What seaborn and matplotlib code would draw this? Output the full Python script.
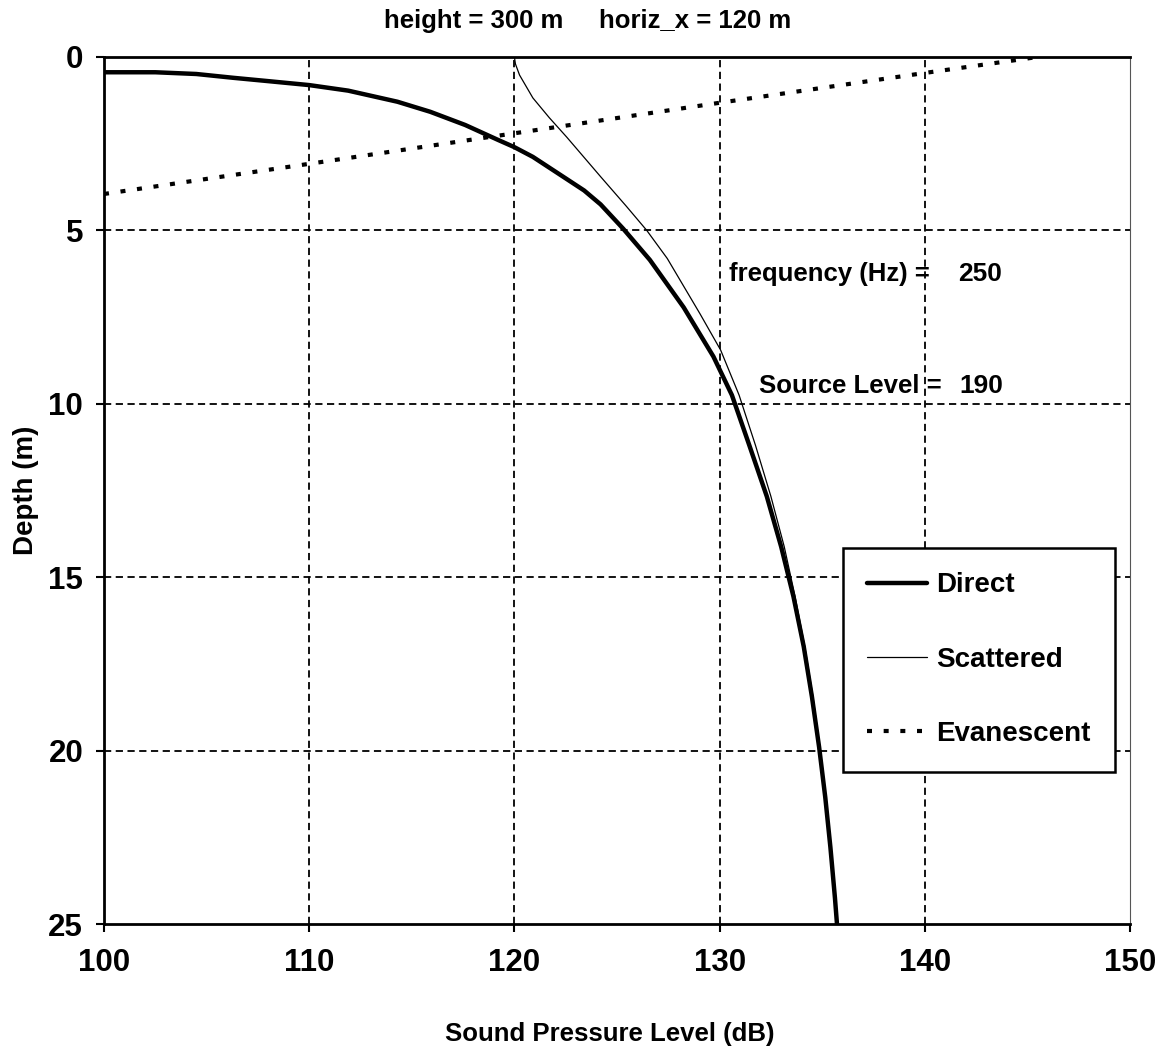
import numpy as np
import pandas as pd
import matplotlib
matplotlib.use("Agg")
import matplotlib.pyplot as plt
import seaborn as sns

# --- data ---
direct_spl = [100, 102.5, 104.5, 106.3, 107.9, 110, 111.9, 114.3, 115.9, 117.6,
              119.2, 120, 120.9, 122.5, 123.4, 124.2, 125.3, 126.6, 128.25, 129.7,
              130.6, 131.45, 132.3, 133.0, 133.6, 134.1, 134.5, 134.85, 135.15,
              135.4, 135.62, 135.72]
direct_depth = [0.44, 0.44, 0.49, 0.6, 0.69, 0.81, 0.97, 1.29, 1.58, 1.96,
                2.39, 2.6, 2.88, 3.5, 3.85, 4.25, 4.95, 5.85, 7.22, 8.64,
                9.75, 11.2, 12.67, 14.12, 15.56, 17.0, 18.45, 19.9, 21.35,
                22.79, 24.24, 25.0]

scattered_spl = [120, 120.05, 120.25, 120.9, 121.7, 122.55, 124.2, 125.45, 126.45,
                 127.45, 129.05, 130.05, 130.95, 131.75, 132.5, 133.15, 133.68,
                 134.15, 134.55, 134.88, 135.17, 135.42, 135.63, 135.73]
scattered_depth = [0.0, 0.2, 0.52, 1.18, 1.75, 2.31, 3.45, 4.3, 5.0,
                   5.81, 7.41, 8.45, 9.75, 11.2, 12.67, 14.12, 15.56,
                   17.0, 18.45, 19.9, 21.35, 22.79, 24.24, 25.0]

evanescent_spl = [100, 110, 120, 130, 140, 145.5]
evanescent_depth = [3.95, 3.08, 2.2, 1.32, 0.46, 0.0]

x_ticks = [100, 110, 120, 130, 140, 150]
y_ticks = [0, 5, 10, 15, 20, 25]

height_m = 300
horiz_x_m = 120
frequency_hz = 250
source_level = 190

sns.set_style("white")
fonts = ["Liberation Sans", "DejaVu Sans"]
plt.rcParams['font.family'] = fonts
plt.rcParams['font.weight'] = 'bold'
plt.rcParams['text.color'] = 'black'
plt.rcParams['axes.labelcolor'] = 'black'
plt.rcParams['xtick.color'] = 'black'
plt.rcParams['ytick.color'] = 'black'

fig = plt.figure(figsize=(11.59, 10.64), dpi=100)
ax = fig.add_axes([104 / 1159, 1 - 924 / 1064, 1026 / 1159, 867 / 1064])

direct = pd.DataFrame({'SPL': direct_spl, 'Depth': direct_depth})
scattered = pd.DataFrame({'SPL': scattered_spl, 'Depth': scattered_depth})
evanescent = pd.DataFrame({'SPL': evanescent_spl, 'Depth': evanescent_depth})

sns.lineplot(data=direct, x='SPL', y='Depth', sort=False, color='black',
             linewidth=3.2, label='Direct', ax=ax)
sns.lineplot(data=scattered, x='SPL', y='Depth', sort=False, color='black',
             linewidth=0.9, label='Scattered', ax=ax)
sns.lineplot(data=evanescent, x='SPL', y='Depth', sort=False, color='black',
             linewidth=3.0, label='Evanescent', ax=ax)
ax.lines[-1].set_dashes((1.2, 2.8))
ax.lines[-1].set_dash_capstyle('butt')
for ln in ax.lines:
    ln.set_solid_joinstyle('round')

ax.set_xlim(100, 150)
ax.set_ylim(25, 0)
ax.set_xticks(x_ticks)
ax.set_yticks(y_ticks)

# dashed grid
for v in x_ticks[1:-1]:
    ax.axvline(v, color='black', lw=1.3, dashes=(4, 2.5), zorder=0)
for v in y_ticks[1:-1]:
    ax.axhline(v, color='black', lw=1.3, dashes=(4, 2.5), zorder=0)

for side in ['left', 'top', 'bottom']:
    ax.spines[side].set_color('black')
    ax.spines[side].set_linewidth(2.0)
ax.spines['right'].set_color('#555555')
ax.spines['right'].set_linewidth(0.8)

ax.tick_params(axis='both', direction='out', length=6, width=1.5, color='black',
               labelsize=22.5)
ax.tick_params(axis='x', pad=11)
ax.tick_params(axis='y', pad=9)
ax.tick_params(left=True, bottom=True)

ax.set_xlabel('Sound Pressure Level (dB)', fontsize=18.5, fontweight='bold', labelpad=32)
ax.xaxis.label.set_x(0.493)
ax.set_ylabel('Depth (m)', fontsize=20, fontweight='bold', labelpad=7)
ax.set_title(f'height = {height_m} m     horiz_x = {horiz_x_m} m',
             fontsize=18.5, fontweight='bold', pad=21, x=0.471)

ax.text(130.45, 6.46, 'frequency (Hz) =', fontsize=18.5, fontweight='bold', va='baseline')
ax.text(141.6, 6.46, str(frequency_hz), fontsize=19, fontweight='bold', va='baseline')
ax.text(131.9, 9.69, 'Source Level =', fontsize=18.5, fontweight='bold', va='baseline')
ax.text(141.7, 9.69, str(source_level), fontsize=19, fontweight='bold', va='baseline')

leg = ax.legend(loc='upper left', bbox_to_anchor=(0.72, 0.434), borderaxespad=0,
                fancybox=False, frameon=True, edgecolor='black', framealpha=1,
                prop={'size': 20, 'weight': 'bold'},
                handlelength=2.15, handletextpad=0.33, labelspacing=1.74,
                borderpad=0.89)
leg.get_frame().set_linewidth(1.8)
leg.get_frame().set_boxstyle('square', pad=0)

fig.savefig('out.png', dpi=100)
